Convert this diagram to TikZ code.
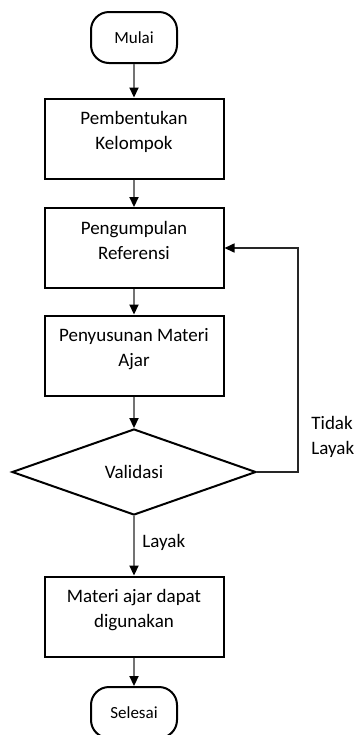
\documentclass[tikz,border=0pt]{standalone}
\usepackage{fontspec}
\setmainfont{Carlito}
\usetikzlibrary{shapes.geometric,arrows.meta}
\def\ruang{\rule[-8pt]{0pt}{8pt}}

\begin{document}
\begin{tikzpicture}[x=0.5pt, y=-0.5pt,
		proses/.style={draw, line width=1pt, minimum width=89.5pt, minimum height=40pt, align=center, font=\fontsize{9.5}{12.5}\selectfont},
		terminal/.style={draw, line width=1pt, rounded corners=9pt, minimum width=43pt, minimum height=25.5pt, font=\fontsize{8.5}{10}\selectfont},
		keputusan/.style={draw, diamond, line width=1pt, minimum width=122pt, minimum height=43pt, inner sep=0pt, font=\fontsize{9.5}{12.5}\selectfont},
		panah/.style={draw=black!55, line width=1.1pt, -{Triangle[length=5pt, width=4.5pt, color=black]}},
		ket/.style={inner sep=0pt, align=left, font=\fontsize{9.5}{12.5}\selectfont}]
		%%%%% START %%%%%
		
		\clip (0, 0) rectangle (356, 735);
		
		\node[terminal] (mulai) at (134, 37.5) {Mulai};
		\node[proses] (kelompok) at (134, 138.5) {Pembentukan\\Kelompok\ruang};
		\node[proses] (referensi) at (134, 248) {Pengumpulan\\Referensi\ruang};
		\node[proses] (materi) at (134, 355.5) {Penyusunan Materi\\Ajar\ruang};
		\node[keputusan] (validasi) at (134, 472) {Validasi};
		\node[proses] (hasil) at (134, 616.5) {Materi ajar dapat\\digunakan\ruang};
		\node[terminal] (selesai) at (134, 712.5) {Selesai};
		
		\draw[panah] (mulai) -- (kelompok);
		\draw[panah] (kelompok) -- (referensi);
		\draw[panah] (referensi) -- (materi);
		\draw[panah] (materi) -- (validasi);
		\draw[panah] (validasi) -- (hasil);
		\draw[panah] (hasil) -- (selesai);
		
		% tidak layak: kembali ke referensi
		\coordinate (belok) at (298, 472);
		\draw[panah, draw=black!85, line width=0.8pt] (validasi.east) -- (belok) |- (referensi.east);
		
		\node[ket, anchor=west] (tidaklayak) at (311, 437) {Tidak\\Layak};
		\node[ket, anchor=west] (layak) at (142, 542) {Layak};
		
		%%%%% END %%%%%
\end{tikzpicture}
\end{document}
